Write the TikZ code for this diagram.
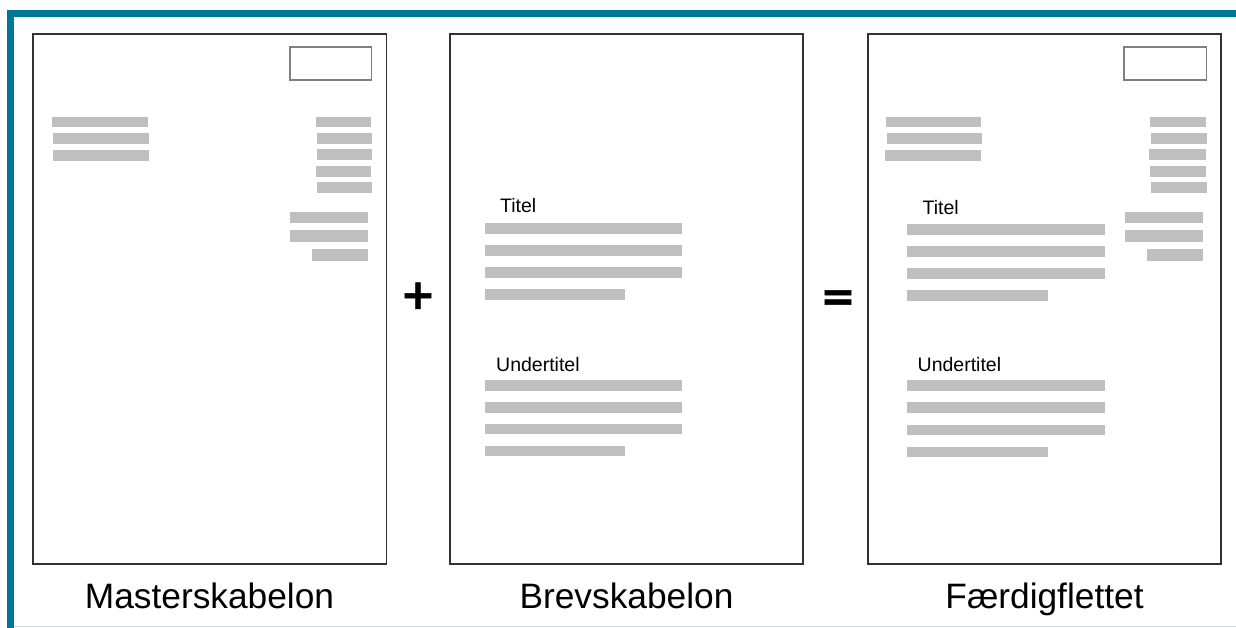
\documentclass[tikz,border=0pt]{standalone}
\usepackage{fontspec}
\setmainfont{Liberation Sans}
\newfontfamily\symfont[FakeBold=1.2]{DejaVu Sans Bold}
\definecolor{teal}{RGB}{0,118,153}
\definecolor{bargray}{RGB}{191,191,191}
\definecolor{framegray}{RGB}{50,50,50}
\definecolor{boxgray}{RGB}{128,128,128}
\definecolor{edgegray}{RGB}{205,219,226}
\tikzset{
  page/.style={draw=framegray, line width=1.8pt},
  stampbox/.style={draw=boxgray, line width=1.6pt},
  bar/.style={fill=bargray},
  small/.style={font=\fontsize{19.5}{22}\selectfont, inner sep=0pt, anchor=base west},
  caption/.style={font=\fontsize{35.3}{40}\selectfont, inner sep=0pt, anchor=base},
  op/.style={font=\symfont\fontsize{42}{46}\selectfont, inner sep=0pt}
}
\begin{document}
\begin{tikzpicture}[x=1pt,y=-1pt]
\useasboundingbox (0,0) rectangle (1236,628);
\fill[white] (0,0) rectangle (1236,628);
% teal border
\fill[teal] (7,10) rectangle (1236,17);
\fill[teal] (7,10) rectangle (14,628);
\draw[edgegray, line width=1pt] (14,626.5) -- (1236,626.5);

% ---------- Panel 1: Masterskabelon ----------
\draw[page] (33,34) rectangle (386.5,564);
\draw[stampbox] (290,47) rectangle (371.5,80);
\fill[bar] (52,117) rectangle (148,127.5);
\fill[bar] (53,133.5) rectangle (149,144);
\fill[bar] (53,150) rectangle (149,161);
\fill[bar] (315.5,117) rectangle (371,127.5);
\fill[bar] (316.5,133.5) rectangle (372,144);
\fill[bar] (316.5,149.5) rectangle (372,160.5);
\fill[bar] (315.5,166) rectangle (371,177);
\fill[bar] (316.5,182.5) rectangle (372,193.5);
\fill[bar] (290,212) rectangle (368,223);
\fill[bar] (290,230.5) rectangle (368,242);
\fill[bar] (311.5,249) rectangle (368,261);
\node[caption] (cap1) at (209.5,608.3) {Masterskabelon};

% plus
\node[op] (plus) at (418,295.7) {+};

% ---------- Panel 2: Brevskabelon ----------
\draw[page] (450,34) rectangle (803,564);
\node[small] (t2) at (500,213) {Titel};
\fill[bar] (485,223.5) rectangle (681.5,234.5);
\fill[bar] (485,245.5) rectangle (681.5,256);
\fill[bar] (485,267.5) rectangle (681.5,278);
\fill[bar] (485,289) rectangle (625,300);
\node[small] (u2) at (496,371.5) {Undertitel};
\fill[bar] (485,380) rectangle (681.5,390.5);
\fill[bar] (485,402) rectangle (681.5,412.5);
\fill[bar] (485,423.5) rectangle (681.5,434);
\fill[bar] (485,445.5) rectangle (625,456);
\node[caption] (cap2) at (626.5,608.3) {Brevskabelon};

% equals
\node[op] (eq) at (838,300.5) {=};

% ---------- Panel 3: Færdigflettet ----------
\draw[page] (868,34) rectangle (1221,564);
\draw[stampbox] (1124,47) rectangle (1206.5,80);
\fill[bar] (886,117) rectangle (981,127.5);
\fill[bar] (887,133.5) rectangle (982,144);
\fill[bar] (885,150) rectangle (981,161);
\fill[bar] (1150,117) rectangle (1206,127.5);
\fill[bar] (1151,133.5) rectangle (1207,144);
\fill[bar] (1149,149.5) rectangle (1206,160.5);
\fill[bar] (1150,166) rectangle (1206,177);
\fill[bar] (1151,182.5) rectangle (1207,193.5);
\fill[bar] (1124.5,212) rectangle (1203,223);
\fill[bar] (1124.5,230.5) rectangle (1203,242);
\fill[bar] (1146.5,249) rectangle (1203,261);
\node[small] (t3) at (922.5,214.3) {Titel};
\fill[bar] (906.5,224.3) rectangle (1104.5,235);
\fill[bar] (906.5,246.5) rectangle (1104.5,257);
\fill[bar] (906.5,268.3) rectangle (1104.5,279);
\fill[bar] (906.5,290) rectangle (1047.5,300.5);
\node[small] (u3) at (917.5,371.7) {Undertitel};
\fill[bar] (906.5,380) rectangle (1104.5,391);
\fill[bar] (906.5,402.3) rectangle (1104.5,412.7);
\fill[bar] (906.5,424.7) rectangle (1104.5,435);
\fill[bar] (906.5,446.7) rectangle (1047.5,457);
\node[caption] (cap3) at (1044.5,608.3) {Færdigflettet};
\end{tikzpicture}
\end{document}
